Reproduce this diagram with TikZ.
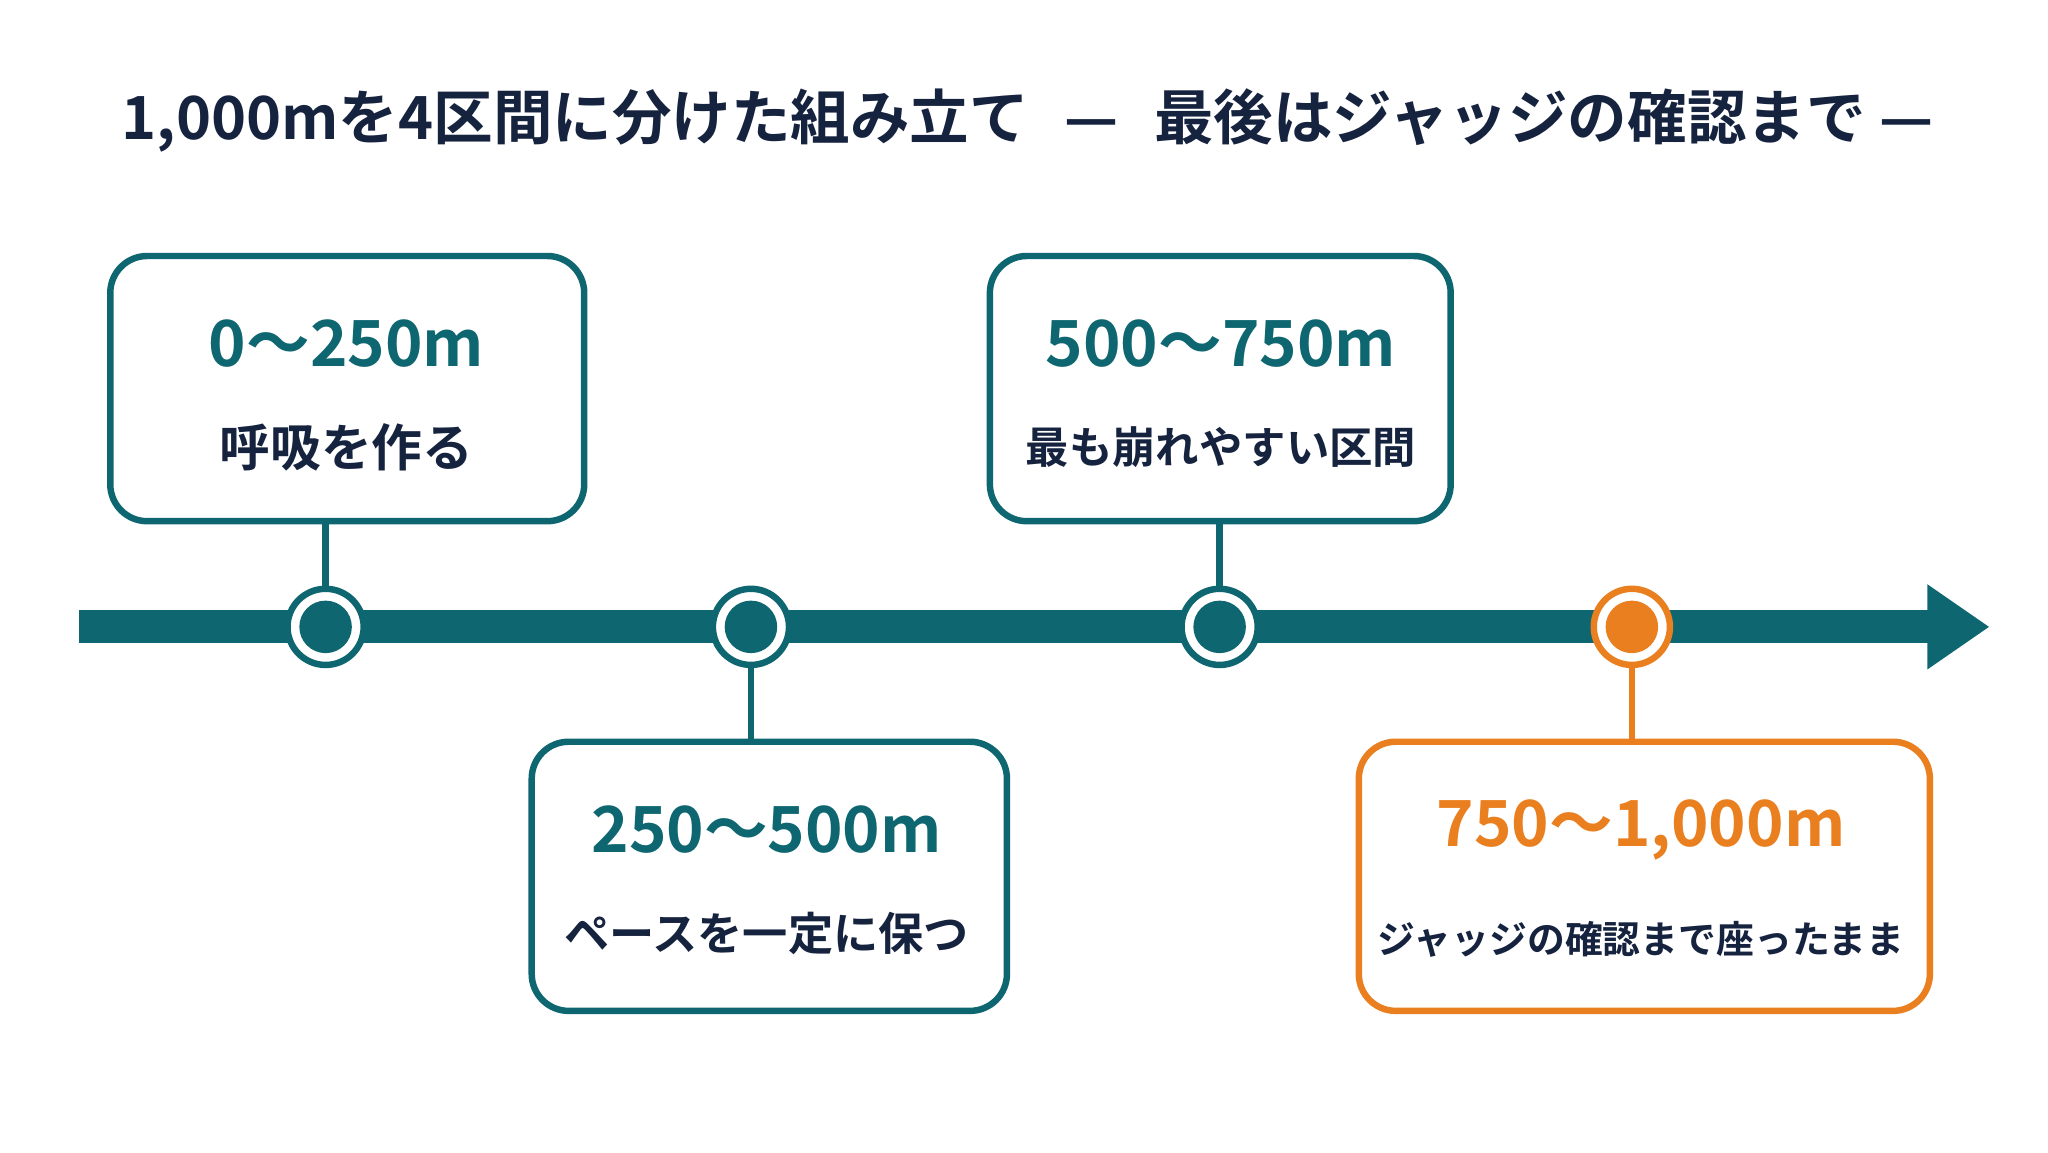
\documentclass[tikz,border=0pt]{standalone}
\usepackage{fontspec}
\setmainfont{Noto Sans CJK JP}[BoldFont={* Bold}]
\usetikzlibrary{positioning}
\definecolor{teal}{HTML}{0E6670}
\definecolor{navy}{HTML}{16233F}
\definecolor{orng}{HTML}{E97F1F}
\tikzset{
  box/.style={draw=#1, line width=1.4pt, rounded corners=8pt, fill=white},
  range/.style={font=\bfseries\fontsize{13.8}{16}\selectfont, text=#1},
  note/.style={font=\bfseries\fontsize{#1}{11}\selectfont, text=navy},
  mark/.style={circle, draw=#1, line width=1.4pt, fill=white},
  dot/.style={circle, fill=#1, minimum size=0.4cm}
}
\begin{document}
\begin{tikzpicture}
  \useasboundingbox[fill=white] (0,0) rectangle (15.6,-8.78);
  % title
  \node[font=\bfseries\fontsize{12.9}{15}\selectfont, text=navy, anchor=west, inner sep=0pt] (title) at (0.92,-0.92)
    {1,000mを4区間に分けた組み立て\hspace{0.6em}—\hspace{0.6em}最後はジャッジの確認まで —};
  % axis
  \fill[teal] (0.6,-4.65) rectangle (14.7,-4.9);
  \fill[teal] (14.68,-4.45) -- (15.15,-4.775) -- (14.68,-5.1) -- cycle;
  % markers
  \foreach \n/\x/\c in {m1/2.48/teal, m2/5.72/teal, m3/9.29/teal, m4/12.43/orng} {
    \node[mark=\c, minimum size=0.58cm] (\n) at (\x,-4.775) {};
    \node[dot=\c] at (\n) {};
  }
  % boxes
  \draw[box=teal] (0.84,-1.95) rectangle (4.45,-3.97);
  \draw[box=teal] (4.05,-5.65) rectangle (7.67,-7.7);
  \draw[box=teal] (7.54,-1.95) rectangle (11.05,-3.97);
  \draw[box=orng] (10.35,-5.65) rectangle (14.7,-7.7);
  \coordinate (b1) at (2.48,-3.97);
  \coordinate (b2) at (5.72,-5.65);
  \coordinate (b3) at (9.29,-3.97);
  \coordinate (b4) at (12.43,-5.65);
  % texts
  \node[range=teal] (r1) at (2.64,-2.62) {0〜250m};
  \node[note=11, below=0.18cm of r1] (n1) {呼吸を作る};
  \node[range=teal] (r2) at (5.84,-6.32) {250〜500m};
  \node[note=9.8, below=0.2cm of r2] (n2) {ペースを一定に保つ};
  \node[range=teal] (r3) at (9.3,-2.62) {500〜750m};
  \node[note=9.4, below=0.2cm of r3] (n3) {最も崩れやすい区間};
  \node[range=orng] (r4) at (12.5,-6.32) {750〜1,000m};
  \node[note=8.2, below=0.22cm of r4] (n4) {ジャッジの確認まで座ったまま};
  % connectors
  \draw[teal, line width=1.4pt] (b1) -- (m1);
  \draw[teal, line width=1.4pt] (b2) -- (m2);
  \draw[teal, line width=1.4pt] (b3) -- (m3);
  \draw[orng, line width=1.4pt] (b4) -- (m4);
\end{tikzpicture}
\end{document}
